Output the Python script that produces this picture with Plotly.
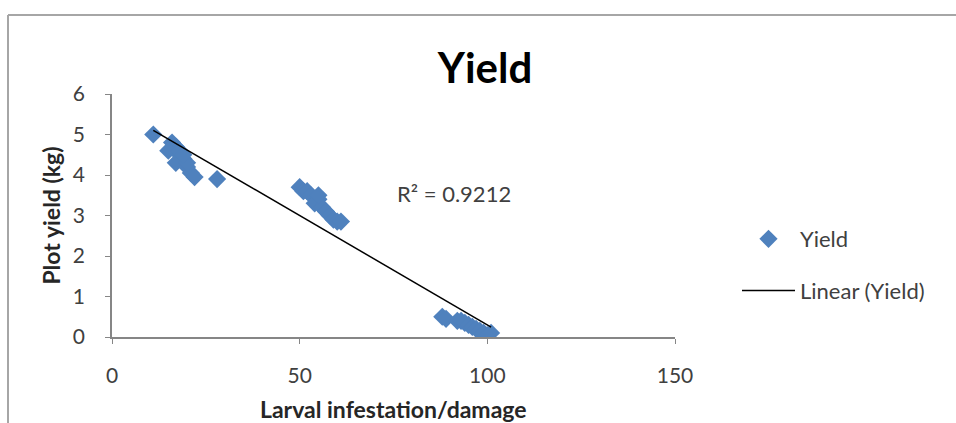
import numpy as np
import plotly.graph_objects as go

# larval infestation/damage vs plot yield (kg)
damage = [11, 16, 17, 15, 18, 19, 17, 20, 21, 22, 18, 20, 19, 28,
          50, 51, 52, 53, 55, 54, 56, 57, 58, 59, 60, 55, 61,
          88, 89, 92, 93, 94, 95, 96, 97, 98, 99, 100, 101]
yield_kg = [5.0, 4.8, 4.7, 4.6, 4.5, 4.4, 4.3, 4.2, 4.05, 3.95, 4.6, 4.3, 4.5, 3.9,
            3.7, 3.6, 3.6, 3.5, 3.4, 3.3, 3.2, 3.1, 3.0, 2.9, 2.85, 3.5, 2.85,
            0.5, 0.45, 0.4, 0.4, 0.35, 0.3, 0.25, 0.2, 0.15, 0.1, 0.05, 0.1]
r2_text = "R² = 0.9212"

slope, icpt = np.polyfit(damage, yield_kg, 1)
xs = np.array([min(damage), max(damage)])

fnt = "Lato, Open Sans, sans-serif"
W, H = 956, 423
L, R, T, B = 112, 675, 94, 337   # plot area edges in pixels
pw, ph = R - L, B - T

def px(x):  # pixel -> paper x
    return (x - L) / pw

def py(y):  # pixel -> paper y
    return (B - y) / ph

fig = go.Figure()
fig.add_trace(go.Scatter(x=damage, y=yield_kg, mode="markers", name="Yield",
                         legendgroup="a",
                         marker=dict(symbol="diamond", size=14, color="#4F81BD")))
fig.add_trace(go.Scatter(x=xs, y=slope * xs + icpt, mode="lines", name="Linear (Yield)",
                         legendgroup="b",
                         line=dict(color="black", width=1.5)))

fig.add_annotation(x=91, y=3.55, text=r2_text, showarrow=False,
                   font=dict(size=22, color="#404040", family=fnt))
fig.add_annotation(x=0.5, y=py(409), xref="paper", yref="paper", yanchor="middle",
                   text="<b>Larval infestation/damage</b>", showarrow=False,
                   font=dict(size=23, color="#262626", family=fnt))

# outer chart border (top and left visible)
fig.add_shape(type="line", xref="paper", yref="paper", x0=px(8), x1=px(W + 5), y0=py(15), y1=py(15),
              line=dict(color="#a6a6a6", width=2))
fig.add_shape(type="line", xref="paper", yref="paper", x0=px(8), x1=px(8), y0=py(15), y1=py(H + 5),
              line=dict(color="#a6a6a6", width=2))

fig.update_layout(
    template="plotly_white",
    width=W, height=H,
    margin=dict(l=L, r=W - R, t=T, b=H - B),
    paper_bgcolor="white", plot_bgcolor="white",
    font=dict(family=fnt, color="#404040"),
    title=dict(text="<b>Yield</b>", x=485 / W, xanchor="center", y=1 - 68 / H, yanchor="middle",
               font=dict(size=42, color="black", family=fnt)),
    xaxis=dict(range=[0, 150], tickvals=[0, 50, 100, 150], showgrid=False, zeroline=False,
               showline=True, linecolor="#868686", linewidth=1.5, ticks="outside", ticklen=5,
               tickcolor="#868686", ticklabelstandoff=14, tickfont=dict(size=21, color="#404040")),
    yaxis=dict(range=[0, 6], dtick=1, showgrid=False, zeroline=False,
               showline=True, linecolor="#868686", linewidth=1.5, ticks="outside", ticklen=5,
               tickcolor="#868686", ticklabelstandoff=16, tickfont=dict(size=21, color="#404040"),
               title=dict(text="<b>Plot yield (kg)</b>", standoff=6,
                          font=dict(size=23, color="#262626", family=fnt))),
    showlegend=True,
    legend=dict(x=px(737), y=py(218), xanchor="left", yanchor="top", itemwidth=53,
                tracegroupgap=20, font=dict(size=22, color="#404040", family=fnt),
                bgcolor="rgba(0,0,0,0)"),
)

fig.write_html("out.html", config={"displayModeBar": False},
               post_script="document.body.style.margin='0';")
